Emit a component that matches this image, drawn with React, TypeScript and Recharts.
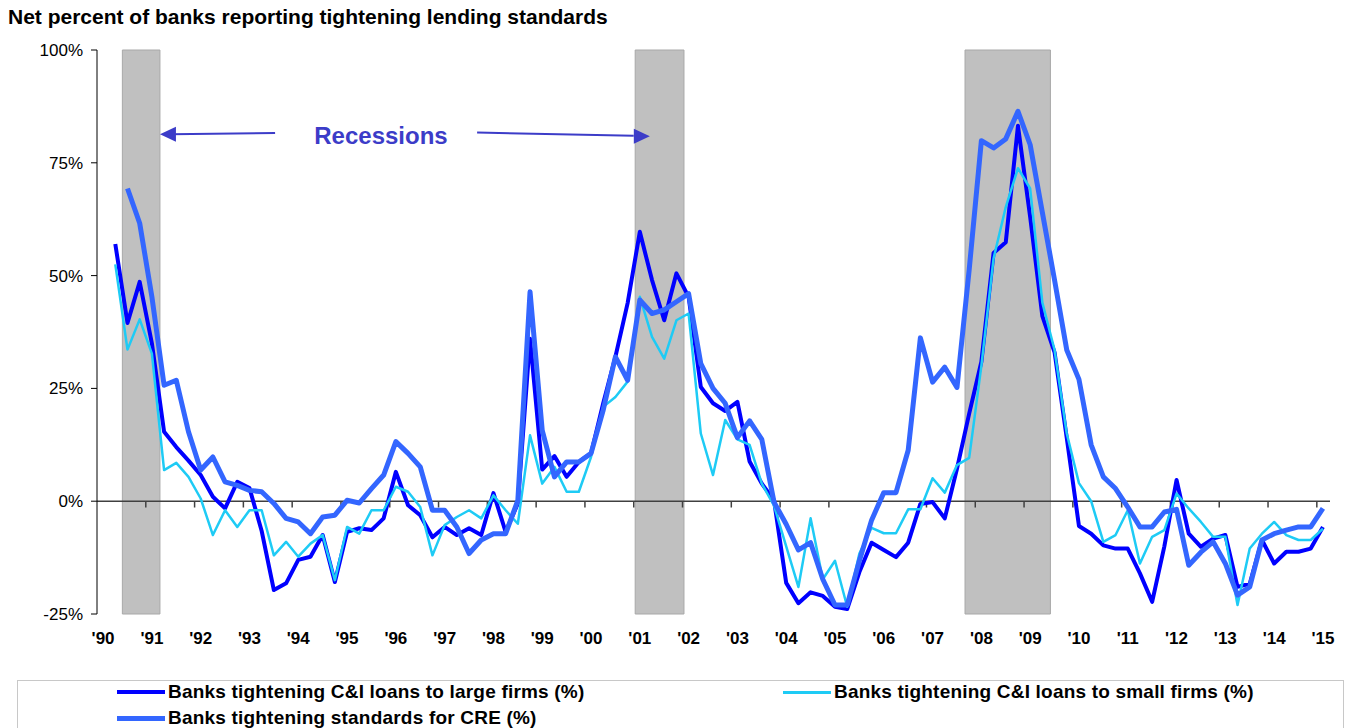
import {
  LineChart,
  Line,
  XAxis,
  YAxis,
  ReferenceArea,
  ReferenceLine,
  ReferenceDot,
} from "recharts";

// survey quarters, 1990Q2 .. 2015Q1
const quarters = [
  "1990Q2", "1990Q3", "1990Q4",
  "1991Q1", "1991Q2", "1991Q3", "1991Q4",
  "1992Q1", "1992Q2", "1992Q3", "1992Q4",
  "1993Q1", "1993Q2", "1993Q3", "1993Q4",
  "1994Q1", "1994Q2", "1994Q3", "1994Q4",
  "1995Q1", "1995Q2", "1995Q3", "1995Q4",
  "1996Q1", "1996Q2", "1996Q3", "1996Q4",
  "1997Q1", "1997Q2", "1997Q3", "1997Q4",
  "1998Q1", "1998Q2", "1998Q3", "1998Q4",
  "1999Q1", "1999Q2", "1999Q3", "1999Q4",
  "2000Q1", "2000Q2", "2000Q3", "2000Q4",
  "2001Q1", "2001Q2", "2001Q3", "2001Q4",
  "2002Q1", "2002Q2", "2002Q3", "2002Q4",
  "2003Q1", "2003Q2", "2003Q3", "2003Q4",
  "2004Q1", "2004Q2", "2004Q3", "2004Q4",
  "2005Q1", "2005Q2", "2005Q3", "2005Q4",
  "2006Q1", "2006Q2", "2006Q3", "2006Q4",
  "2007Q1", "2007Q2", "2007Q3", "2007Q4",
  "2008Q1", "2008Q2", "2008Q3", "2008Q4",
  "2009Q1", "2009Q2", "2009Q3", "2009Q4",
  "2010Q1", "2010Q2", "2010Q3", "2010Q4",
  "2011Q1", "2011Q2", "2011Q3", "2011Q4",
  "2012Q1", "2012Q2", "2012Q3", "2012Q4",
  "2013Q1", "2013Q2", "2013Q3", "2013Q4",
  "2014Q1", "2014Q2", "2014Q3", "2014Q4",
  "2015Q1",
];

const largeFirms = [
  57, 39.5, 48.6, 35, 15.4, 12, 9, 5.8, 1, -1.6,
  4.3, 2.9, -6.6, -19.7, -18.2, -13, -12.3, -7.5, -17.9, -6.8,
  -6, -6.4, -3.8, 6.5, -0.9, -3.1, -8, -5.7, -7.5, -6,
  -7.5, 1.8, -6.8, -0.5, 36, 7, 10, 5.4, 8.7, 10.6,
  21.7, 32, 43.9, 59.7, 49, 40.1, 50.5, 45.3, 25.3, 21.7,
  20, 22, 8.8, 3.9, 0.2, -18.1, -22.6, -20.2, -21, -23.4,
  -23.9, -15.7, -9.2, -10.8, -12.4, -9.2, -0.6, -0.2, -3.8, 7.2,
  19.4, 30.9, 55, 57.4, 83.2, 63, 41, 33, 14, -5.5,
  -7.2, -9.8, -10.5, -10.5, -16, -22.3, -10, 4.7, -7.2, -10.1,
  -8.3, -7.5, -19, -18.3, -8.6, -13.8, -11.2, -11.2, -10.5, -5.7,
];

const smallFirms = [
  52.5, 33.6, 40.3, 32.7, 6.9, 8.5, 5.4, 0.6, -7.5, -2,
  -5.7, -2, -2, -12, -9, -12.3, -9.4, -7.5, -17.5, -5.7,
  -7.2, -2, -2, 3.2, 2.1, -1.3, -12, -5.3, -3.5, -2,
  -3.8, 1.3, -2, -5, 14.6, 3.9, 7.6, 2.1, 2.1, 9.8,
  20.9, 23.1, 26.5, 45.3, 36.4, 31.6, 40.1, 41.6, 15, 5.8,
  18, 13.7, 12.5, 3.9, -1, -10, -19, -3.8, -17.3, -13.2,
  -23.4, -11.6, -5.9, -7.1, -7.1, -1.8, -1.8, 5.1, 1.9, 8,
  9.6, 30, 53.8, 65.2, 73.8, 69.3, 44, 33.5, 15, 4,
  0, -9, -7.5, -2, -13.8, -7.9, -6.4, 1.7, -1.6, -4.6,
  -7.9, -7.9, -23, -10.5, -7.2, -4.6, -7.5, -8.6, -8.6, -6.1,
];

const cre = [
  null, 69.3, 61.6, 45.3, 25.7, 26.8, 15.4, 6.9, 9.8, 4.3,
  3.5, 2.4, 2.1, -0.5, -3.8, -4.6, -7.2, -3.5, -3.1, 0.2,
  -0.4, 2.8, 5.8, 13.2, 10.6, 7.6, -2, -2, -5.7, -11.6,
  -8.6, -7.2, -7.2, 0.2, 46.4, 15.7, 5.4, 8.7, 8.7, 10.6,
  20.2, 32, 26.8, 44.6, 41.6, 42.4, 44.2, 46, 30.5, 25,
  21.7, 14.1, 17.8, 13.7, -0.2, -5.1, -10.8, -9.2, -17.3, -23,
  -23, -13.2, -4.2, 1.9, 1.9, 11.3, 36.2, 26.4, 29.7, 25.2,
  51.3, 79.9, 78.3, 80.3, 86.4, 79, 64, 49, 33.5, 27,
  12.5, 5.4, 2.8, -1.3, -5.7, -5.7, -2.4, -1.8, -14.2, -11.3,
  -9, -13.8, -20.8, -19, -8.6, -7.2, -6.4, -5.7, -5.7, -1.6,
];

const tickYears = [
  1990, 1991, 1992, 1993, 1994, 1995, 1996, 1997, 1998, 1999, 2000, 2001, 2002,
  2003, 2004, 2005, 2006, 2007, 2008, 2009, 2010, 2011, 2012, 2013, 2014, 2015,
];
const yearLabels = [
  "'90", "'91", "'92", "'93", "'94", "'95", "'96", "'97", "'98", "'99", "'00", "'01", "'02",
  "'03", "'04", "'05", "'06", "'07", "'08", "'09", "'10", "'11", "'12", "'13", "'14", "'15",
];
const yTicks = [-25, 0, 25, 50, 75, 100];

// recession bands, fractional years
const recessions = [
  { from: 1990.52, to: 1991.29 },
  { from: 2001.03, to: 2002.03 },
  { from: 2007.79, to: 2009.54 },
];

const LARGE = "#0000FF";
const SMALL = "#1ECBF5";
const CRE_C = "#3366FF";
const NOTE = "#3C3CC8";

const toYear = (q: string) => Number(q.slice(0, 4)) + (Number(q.slice(5)) - 0.5) / 4;

const data = quarters.map((q, i) => ({
  t: toYear(q),
  large: largeFirms[i],
  small: smallFirms[i],
  cre: cre[i],
}));

const labelTicks = tickYears.map((y) => y + 0.125);
const font = "'Liberation Sans', Arial, sans-serif";

const legendItems = [
  { label: "Banks tightening C&I loans to large firms (%)", color: LARGE, w: 4, left: 117, top: 692 },
  { label: "Banks tightening C&I loans to small firms (%)", color: SMALL, w: 3, left: 783, top: 692 },
  { label: "Banks tightening standards for CRE (%)", color: CRE_C, w: 5, left: 117, top: 718 },
];

export default function App() {
  return (
    <div style={{ position: "absolute", left: 0, top: 0, width: 1351, height: 728, background: "#fff", fontFamily: font, overflow: "hidden" }}>
      <div style={{ position: "absolute", left: 8, top: 4, fontSize: 21, lineHeight: "25px", fontWeight: "bold", color: "#000" }}>
        Net percent of banks reporting tightening lending standards
      </div>

      <LineChart
        width={1351}
        height={680}
        data={data}
        margin={{ top: 50, right: 21, bottom: 36, left: 37 }}
        style={{ position: "absolute", left: 0, top: 0 }}
      >
        {recessions.map((r) => (
          <ReferenceArea key={r.from} x1={r.from} x2={r.to} fill="#C0C0C0" fillOpacity={1} stroke="#A8A8A8" strokeWidth={1} />
        ))}

        <XAxis
          dataKey="t"
          type="number"
          scale="linear"
          domain={[1990, 2015.27]}
          ticks={labelTicks}
          tickFormatter={(v: number) => yearLabels[Math.round(v - 0.125) - 1990]}
          interval={0}
          axisLine={false}
          tickLine={false}
          tickSize={0}
          tickMargin={18}
          height={30}
          tick={{ fill: "#000", fontSize: 17, fontWeight: "bold", fontFamily: font }}
          allowDataOverflow
        />
        <YAxis
          type="number"
          domain={[-25, 100]}
          ticks={yTicks}
          tickFormatter={(v: number) => `${v}%`}
          interval={0}
          width={60}
          axisLine={{ stroke: "#000", strokeWidth: 1 }}
          tickLine={{ stroke: "#000" }}
          tickSize={6}
          tickMargin={8}
          tick={{ fill: "#000", fontSize: 17, fontFamily: font }}
          allowDataOverflow
        />

        <ReferenceLine y={0} stroke="#404040" strokeWidth={1.5} />
        {tickYears.slice(1).map((y) => (
          <ReferenceLine key={y} segment={[{ x: y, y: 0 }, { x: y, y: -1.4 }]} stroke="#404040" strokeWidth={1.5} />
        ))}

        {/* Recessions annotation */}
        <ReferenceLine segment={[{ x: 1993.65, y: 81.6 }, { x: 1991.5, y: 81.3 }]} stroke={NOTE} strokeWidth={2} />
        <ReferenceDot
          x={1991.29}
          y={81.3}
          shape={(p: any) => (
            <polygon points={`${p.cx},${p.cy} ${p.cx + 16},${p.cy - 7.5} ${p.cx + 16},${p.cy + 7.5}`} fill={NOTE} />
          )}
        />
        <ReferenceLine segment={[{ x: 1997.79, y: 81.7 }, { x: 2001.0, y: 81.0 }]} stroke={NOTE} strokeWidth={2} />
        <ReferenceDot
          x={2001.33}
          y={80.9}
          shape={(p: any) => (
            <polygon points={`${p.cx},${p.cy} ${p.cx - 16},${p.cy - 7.5} ${p.cx - 16},${p.cy + 7.5}`} fill={NOTE} />
          )}
        />
        <ReferenceDot
          x={1995.82}
          y={79.2}
          shape={(p: any) => (
            <text x={p.cx} y={p.cy} textAnchor="middle" fill={NOTE} fontSize={24} fontWeight="bold" fontFamily={font}>
              Recessions
            </text>
          )}
        />

        <Line type="linear" dataKey="large" stroke={LARGE} strokeWidth={4} dot={false} strokeLinejoin="round" isAnimationActive={false} />
        <Line type="linear" dataKey="small" stroke={SMALL} strokeWidth={2.5} dot={false} strokeLinejoin="round" isAnimationActive={false} />
        <Line type="linear" dataKey="cre" stroke={CRE_C} strokeWidth={5} dot={false} strokeLinejoin="round" isAnimationActive={false} />
      </LineChart>

      <div style={{ position: "absolute", left: 17, top: 680, width: 1327, height: 60, border: "1px solid #C8C8C8", boxSizing: "border-box" }} />
      {legendItems.map((it) => (
        <div key={it.label} style={{ position: "absolute", left: it.left, top: it.top - 12, height: 24, display: "flex", alignItems: "center" }}>
          <div style={{ width: 48, height: it.w, background: it.color, marginRight: 3 }} />
          <span style={{ fontSize: 19, letterSpacing: 0.2, fontWeight: "bold", color: "#000", whiteSpace: "nowrap" }}>{it.label}</span>
        </div>
      ))}
    </div>
  );
}
